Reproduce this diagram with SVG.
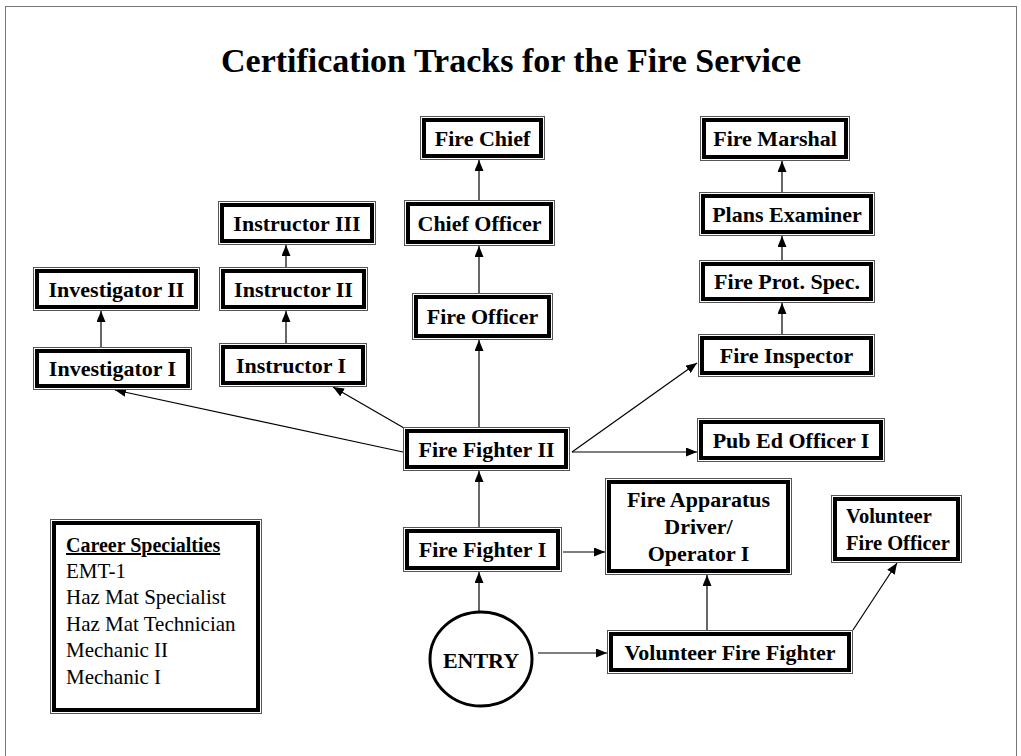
<svg xmlns="http://www.w3.org/2000/svg" width="1021" height="756" viewBox="0 0 1021 756">
<style>
.o{fill:#fff;stroke:#555;stroke-width:1}
.i{fill:none;stroke:#000;stroke-width:4}
.t{font-family:"Liberation Serif","Times New Roman",serif;font-weight:bold;font-size:22px;fill:#000;text-anchor:middle}
.ts{font-family:"Liberation Serif","Times New Roman",serif;font-weight:bold;font-size:20.5px;fill:#000;text-anchor:start}
.r{font-family:"Liberation Serif","Times New Roman",serif;font-size:21px;fill:#000}
.h{font-family:"Liberation Serif","Times New Roman",serif;font-size:20px;font-weight:bold;text-decoration:underline;fill:#000}
.c{stroke:#000;stroke-width:1.2;fill:none;marker-end:url(#ah)}
</style>
<defs>
<marker id="ah" markerUnits="userSpaceOnUse" markerWidth="11" markerHeight="9" refX="11" refY="4.5" orient="auto">
<path d="M0,0 L11,4.5 L0,9 z" fill="#000"/>
</marker>
</defs>
<rect x="0" y="0" width="1021" height="756" fill="#fff"/>
<rect x="5.5" y="6.5" width="1011" height="800" fill="none" stroke="#777" stroke-width="1"/>
<text x="511" y="72" font-family="'Liberation Serif','Times New Roman',serif" font-weight="bold" font-size="34" text-anchor="middle">Certification Tracks for the Fire Service</text>

<g id="connectors">
<line class="c" x1="479" y1="200" x2="479" y2="160"/>
<line class="c" x1="479" y1="293" x2="479" y2="246"/>
<line class="c" x1="479" y1="427" x2="479" y2="340"/>
<line class="c" x1="479" y1="527" x2="479" y2="471"/>
<line class="c" x1="479" y1="611" x2="479" y2="572"/>
<line class="c" x1="782" y1="334" x2="782" y2="303"/>
<line class="c" x1="782" y1="260" x2="782" y2="236"/>
<line class="c" x1="782" y1="192" x2="782" y2="161"/>
<line class="c" x1="286" y1="267" x2="286" y2="245"/>
<line class="c" x1="286" y1="343" x2="286" y2="311"/>
<line class="c" x1="101" y1="347" x2="101" y2="311"/>
<line class="c" x1="404" y1="428" x2="333" y2="387"/>
<line class="c" x1="403" y1="452" x2="115" y2="390"/>
<line class="c" x1="572" y1="452" x2="697" y2="452"/>
<line class="c" x1="572" y1="452" x2="697" y2="363"/>
<line class="c" x1="563" y1="552" x2="605" y2="552"/>
<line class="c" x1="538" y1="653" x2="607" y2="653"/>
<line class="c" x1="707" y1="630" x2="707" y2="575"/>
<line class="c" x1="853" y1="630" x2="897" y2="563"/>
</g>

<g id="fire-chief"><rect class="o" x="420.5" y="116.5" width="124" height="43"/><rect class="i" x="424" y="120" width="117" height="36"/><text class="t" x="482.5" y="146">Fire Chief</text></g>
<g id="chief-officer"><rect class="o" x="404.5" y="200.5" width="150" height="45"/><rect class="i" x="408" y="204" width="143" height="38"/><text class="t" x="479.5" y="231">Chief Officer</text></g>
<g id="fire-officer"><rect class="o" x="412.5" y="293.5" width="140" height="46"/><rect class="i" x="416" y="297" width="133" height="39"/><text class="t" x="482.5" y="324">Fire Officer</text></g>
<g id="fire-fighter-2"><rect class="o" x="403.5" y="427.5" width="166" height="43"/><rect class="i" x="407" y="431" width="159" height="36"/><text class="t" x="486.5" y="457">Fire Fighter II</text></g>
<g id="fire-marshal"><rect class="o" x="700.5" y="116.5" width="149" height="44"/><rect class="i" x="704" y="120" width="142" height="37"/><text class="t" x="775" y="146">Fire Marshal</text></g>
<g id="plans-examiner"><rect class="o" x="699.5" y="192.5" width="175" height="43"/><rect class="i" x="703" y="196" width="168" height="36"/><text class="t" x="787" y="222">Plans Examiner</text></g>
<g id="fire-prot-spec"><rect class="o" x="699.5" y="260.5" width="175" height="42"/><rect class="i" x="703" y="264" width="168" height="35"/><text class="t" x="787" y="289">Fire Prot. Spec.</text></g>
<g id="fire-inspector"><rect class="o" x="698.5" y="334.5" width="176" height="42"/><rect class="i" x="702" y="338" width="169" height="35"/><text class="t" x="786.5" y="363">Fire Inspector</text></g>
<g id="instructor-3"><rect class="o" x="218.5" y="201.5" width="157" height="43"/><rect class="i" x="222" y="205" width="150" height="36"/><text class="t" x="297" y="231">Instructor III</text></g>
<g id="instructor-2"><rect class="o" x="219.5" y="267.5" width="148" height="43"/><rect class="i" x="223" y="271" width="141" height="36"/><text class="t" x="293.5" y="297">Instructor II</text></g>
<g id="instructor-1"><rect class="o" x="219.5" y="343.5" width="147" height="43"/><rect class="i" x="223" y="347" width="140" height="36"/><text class="t" x="291" y="373">Instructor I</text></g>
<g id="investigator-2"><rect class="o" x="33.5" y="267.5" width="166" height="43"/><rect class="i" x="37" y="271" width="159" height="36"/><text class="t" x="116.5" y="297">Investigator II</text></g>
<g id="investigator-1"><rect class="o" x="33.5" y="347.5" width="158" height="42"/><rect class="i" x="37" y="351" width="151" height="35"/><text class="t" x="112.5" y="376">Investigator I</text></g>
<g id="pub-ed-officer-1"><rect class="o" x="697.5" y="418.5" width="187" height="43"/><rect class="i" x="701" y="422" width="180" height="36"/><text class="t" x="791" y="448">Pub Ed Officer I</text></g>
<g id="fire-fighter-1"><rect class="o" x="403.5" y="527.5" width="158" height="44"/><rect class="i" x="407" y="531" width="151" height="37"/><text class="t" x="482.5" y="557">Fire Fighter I</text></g>
<g id="fire-apparatus-driver"><rect class="o" x="605.5" y="478.5" width="186" height="96"/><rect class="i" x="609" y="482" width="179" height="89"/><text class="t" x="698.5" y="507">Fire Apparatus</text><text class="t" x="698.5" y="534">Driver/</text><text class="t" x="698.5" y="561">Operator I</text></g>
<g id="volunteer-fire-fighter"><rect class="o" x="607.5" y="630.5" width="245" height="43"/><rect class="i" x="611" y="634" width="238" height="36"/><text class="t" x="730" y="660">Volunteer Fire Fighter</text></g>
<g id="volunteer-fire-officer"><rect class="o" x="831.5" y="495.5" width="130" height="67"/><rect class="i" x="835" y="499" width="123" height="60"/><text class="ts" x="846" y="523">Volunteer</text><text class="ts" x="846" y="550">Fire Officer</text></g>
<g id="career-specialties"><rect class="o" x="50.5" y="519.5" width="211" height="194"/><rect class="i" x="54" y="523" width="204" height="187"/>
<text class="h" x="66" y="552">Career Specialties</text>
<text class="r" x="66" y="578">EMT-1</text>
<text class="r" x="66" y="604">Haz Mat Specialist</text>
<text class="r" x="66" y="631">Haz Mat Technician</text>
<text class="r" x="66" y="657">Mechanic II</text>
<text class="r" x="66" y="684">Mechanic I</text>
</g>
<g id="entry"><ellipse cx="481" cy="659" rx="51" ry="47" fill="#fff" stroke="#000" stroke-width="3"/><text class="t" x="481" y="668">ENTRY</text></g>
</svg>
